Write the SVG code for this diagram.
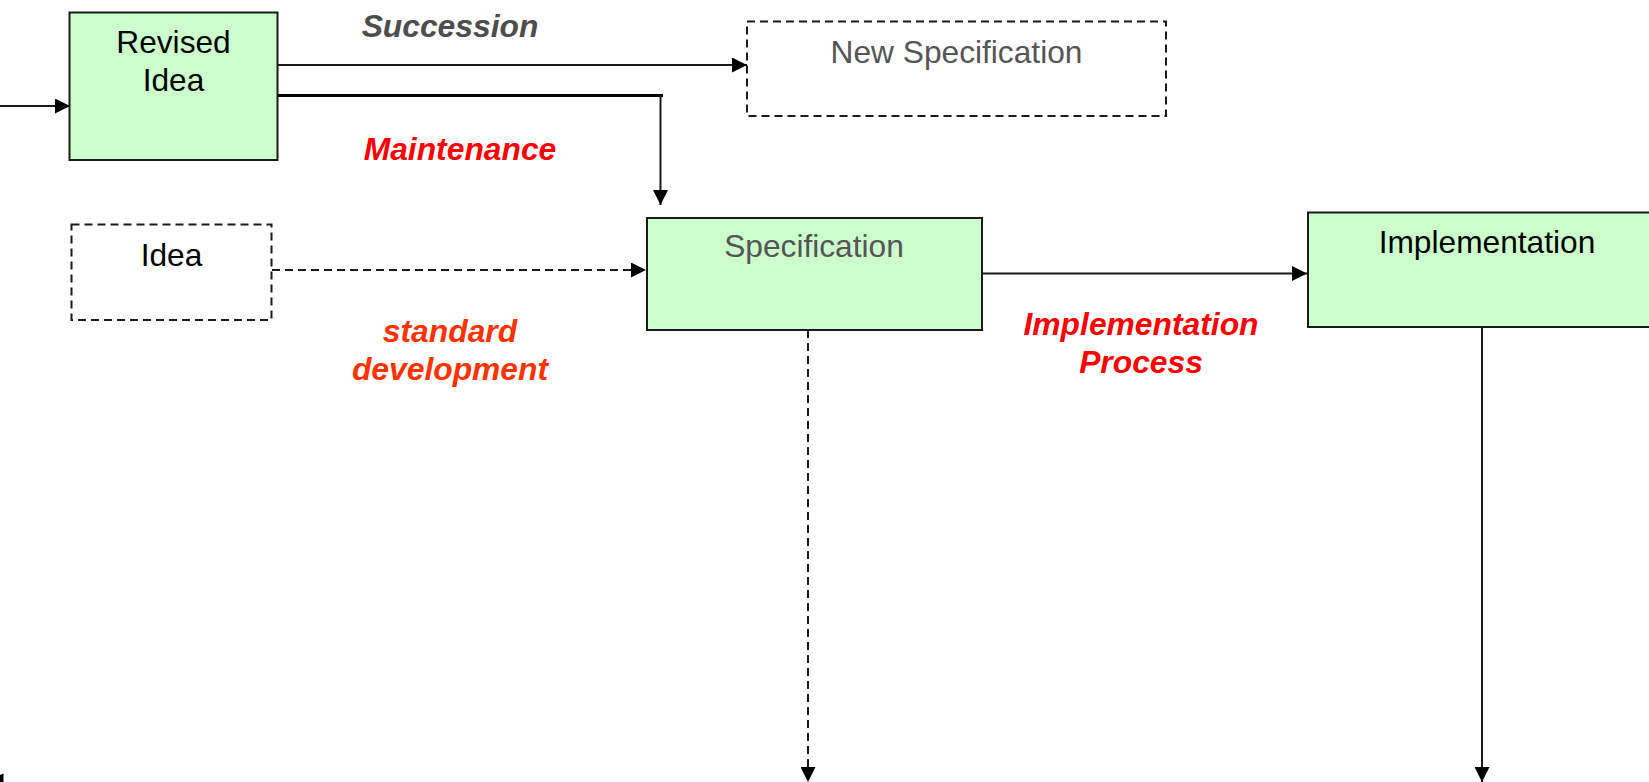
<svg xmlns="http://www.w3.org/2000/svg" width="1649" height="782" viewBox="0 0 1649 782">
<style>
  .box { fill: #ccffcc; stroke: #1a1a1a; stroke-width: 2; }
  .dbox { fill: #ffffff; stroke: #1a1a1a; stroke-width: 2; stroke-dasharray: 8 5; }
  .t { font-family: "Liberation Sans", Arial, sans-serif; font-size: 31.7px; text-anchor: middle; }
  .blk { fill: #000000; }
  .gry { fill: #555555; }
  .lbl { font-family: "Liberation Sans", Arial, sans-serif; font-size: 31.8px; font-weight: bold; font-style: italic; text-anchor: middle; }
  .ln { fill: none; stroke: #1a1a1a; stroke-width: 2; }
  .thick { fill: none; stroke: #000000; stroke-width: 3; }
  .dash { fill: none; stroke: #1a1a1a; stroke-width: 2; stroke-dasharray: 8 5; }
</style>
<defs>
  <marker id="ah" viewBox="0 0 15 15" refX="15" refY="7.5" markerWidth="15" markerHeight="15" markerUnits="userSpaceOnUse" orient="auto">
    <path d="M0,0 L15,7.5 L0,15 Z" fill="#000000"/>
  </marker>
</defs>
<rect width="1649" height="782" fill="#ffffff"/>

<g id="connectors">
  <line class="ln" x1="0" y1="106" x2="70" y2="106" marker-end="url(#ah)"/>
  <line class="ln" x1="278" y1="65" x2="747" y2="65" marker-end="url(#ah)"/>
  <polyline class="thick" points="278,95.5 663,95.5"/>
  <line class="ln" x1="660.5" y1="95" x2="660.5" y2="205" marker-end="url(#ah)"/>
  <line class="dash" x1="272" y1="270" x2="646" y2="270" marker-end="url(#ah)"/>
  <line class="ln" x1="982" y1="273.5" x2="1307" y2="273.5" marker-end="url(#ah)"/>
  <line class="dash" x1="808" y1="330" x2="808" y2="782" marker-end="url(#ah)"/>
  <line class="ln" x1="1482" y1="327" x2="1482" y2="782" marker-end="url(#ah)"/>
  <polygon points="0,775 3.5,773.5 3.5,782 0,782" fill="#000000"/>
</g>

<g id="revised-idea">
  <rect class="box" x="69.5" y="12.5" width="208" height="147.5"/>
  <text class="t blk" x="173.5" y="53">Revised</text>
  <text class="t blk" x="173.5" y="90.5">Idea</text>
</g>

<g id="new-specification">
  <rect class="dbox" x="747" y="21.5" width="419" height="94.5"/>
  <text class="t gry" x="956.5" y="62.5">New Specification</text>
</g>

<g id="idea">
  <rect class="dbox" x="71.5" y="224.5" width="200" height="95.5"/>
  <text class="t blk" x="171.5" y="266">Idea</text>
</g>

<g id="specification">
  <rect class="box" x="647" y="218" width="335" height="112"/>
  <text class="t gry" x="814" y="256.5">Specification</text>
</g>

<g id="implementation">
  <rect class="box" x="1308" y="212.5" width="360" height="114.5"/>
  <text class="t blk" x="1487" y="252.5">Implementation</text>
</g>

<g id="labels">
  <text class="lbl" x="450" y="36.5" fill="#4d4d4d">Succession</text>
  <text class="lbl" x="460" y="160" fill="#ff0000">Maintenance</text>
  <text class="lbl" x="450" y="342" fill="#ff3300">standard</text>
  <text class="lbl" x="450" y="380" fill="#ff3300">development</text>
  <text class="lbl" x="1141" y="335" fill="#ff0000">Implementation</text>
  <text class="lbl" x="1141" y="373" fill="#ff0000">Process</text>
</g>
</svg>
